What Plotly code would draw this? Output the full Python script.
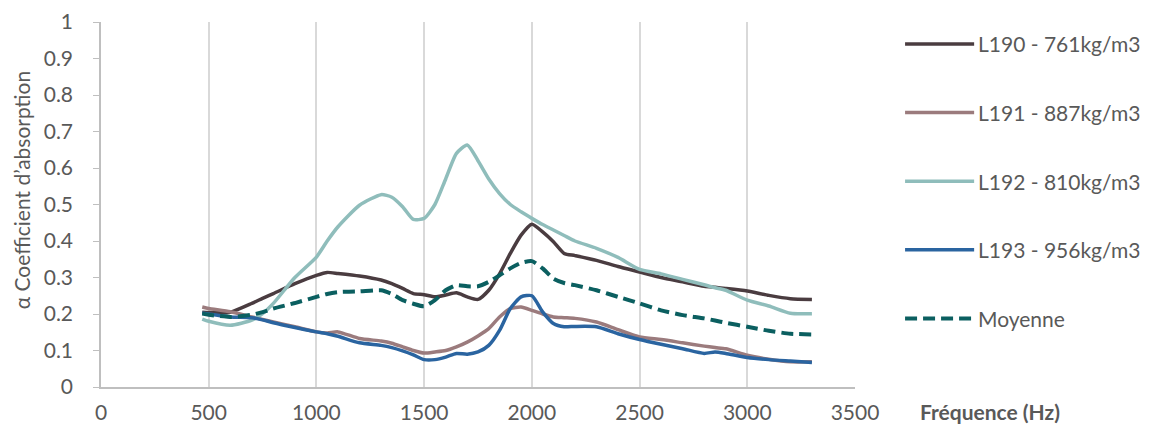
import plotly.graph_objects as go

freq = [470, 500, 600, 700, 750, 800, 900, 1000, 1050, 1100, 1200, 1300, 1350, 1400, 1450, 1500, 1550,
        1600, 1650, 1700, 1750, 1800, 1850, 1900, 1950, 2000, 2050, 2100, 2150, 2200, 2300, 2400, 2500,
        2600, 2700, 2800, 2850, 2900, 3000, 3100, 3200, 3300]

l190 = [0.205, 0.204, 0.205, 0.229, 0.243, 0.256, 0.283, 0.306, 0.314, 0.311, 0.304, 0.293, 0.283, 0.27, 0.256, 0.253, 0.247,
        0.252, 0.258, 0.247, 0.24, 0.265, 0.31, 0.366, 0.416, 0.446, 0.425, 0.398, 0.366, 0.36, 0.347, 0.33, 0.315,
        0.30, 0.288, 0.276, 0.273, 0.27, 0.263, 0.251, 0.242, 0.24]

l191 = [0.219, 0.215, 0.206, 0.192, 0.185, 0.178, 0.165, 0.151, 0.148, 0.151, 0.133, 0.126, 0.12, 0.11, 0.1, 0.093, 0.096,
        0.10, 0.11, 0.123, 0.14, 0.16, 0.192, 0.215, 0.219, 0.21, 0.2, 0.192, 0.19, 0.188, 0.178, 0.157, 0.137,
        0.13, 0.121, 0.112, 0.108, 0.105, 0.087, 0.076, 0.069, 0.069]

l192 = [0.186, 0.18, 0.169, 0.183, 0.201, 0.229, 0.30, 0.356, 0.40, 0.439, 0.498, 0.527, 0.52, 0.494, 0.459, 0.462, 0.50,
        0.57, 0.64, 0.663, 0.62, 0.57, 0.53, 0.50, 0.48, 0.462, 0.445, 0.43, 0.415, 0.40, 0.38, 0.355, 0.322,
        0.31, 0.295, 0.28, 0.272, 0.265, 0.238, 0.222, 0.202, 0.201]

l193 = [0.203, 0.2, 0.192, 0.19, 0.184, 0.176, 0.163, 0.151, 0.146, 0.139, 0.121, 0.114, 0.108, 0.099, 0.088, 0.075, 0.075,
        0.082, 0.092, 0.09, 0.096, 0.114, 0.155, 0.215, 0.247, 0.25, 0.206, 0.174, 0.165, 0.166, 0.165, 0.146, 0.13,
        0.117, 0.105, 0.092, 0.096, 0.092, 0.081, 0.075, 0.071, 0.067]

moyenne = [0.201, 0.198, 0.192, 0.198, 0.205, 0.215, 0.23, 0.247, 0.255, 0.26, 0.262, 0.265, 0.255, 0.238, 0.228, 0.221, 0.238,
           0.265, 0.279, 0.276, 0.276, 0.288, 0.306, 0.325, 0.34, 0.345, 0.325, 0.297, 0.285, 0.279, 0.265, 0.247, 0.229,
           0.21, 0.197, 0.188, 0.182, 0.176, 0.165, 0.154, 0.146, 0.144]

series_names = ["L190 - 761kg/m3", "L191 - 887kg/m3", "L192 - 810kg/m3", "L193 - 956kg/m3", "Moyenne"]
series_values = [l190, l191, l192, l193, moyenne]
series_colors = ["#4A3C40", "#9B7B7D", "#8FBDBB", "#2A64A0", "#0B5F60"]
series_dash = ["solid", "solid", "solid", "solid", "12px,6px"]
series_width = [3.5, 3.5, 3.5, 3.5, 4]

x_ticks = [0, 500, 1000, 1500, 2000, 2500, 3000, 3500]
y_ticks = [0, 0.1, 0.2, 0.3, 0.4, 0.5, 0.6, 0.7, 0.8, 0.9, 1]
y_tick_labels = ["0", "0.1", "0.2", "0.3", "0.4", "0.5", "0.6", "0.7", "0.8", "0.9", "1"]

FONT = "Lato, 'Open Sans', sans-serif"
GRAY = "#595959"

fig = go.Figure()
for name, vals, col, dash, w in zip(series_names, series_values, series_colors, series_dash, series_width):
    fig.add_trace(go.Scatter(
        x=freq, y=vals, name=name, mode="lines",
        line=dict(color=col, width=w, dash=dash, shape="spline", smoothing=0.6),
        showlegend=False,
    ))

# custom legend (long line samples as in the reference)
shapes = []
annotations = []
legend_y = [0.94, 0.752, 0.564, 0.376, 0.188]
for name, col, dash, w, ly in zip(series_names, series_colors, series_dash, series_width, legend_y):
    shapes.append(dict(type="line", xref="paper", yref="paper", x0=1.0664, x1=1.158, y0=ly, y1=ly,
                       line=dict(color=col, width=w, dash=dash)))
    annotations.append(dict(text=name, xref="paper", yref="paper", x=1.16, y=ly,
                            xanchor="left", yanchor="middle", showarrow=False,
                            font=dict(family=FONT, size=21, color=GRAY)))

annotations.append(dict(
    text="<b>Fréquence (Hz)</b>", xref="paper", yref="paper", x=1.083, y=-0.066,
    xanchor="left", yanchor="middle", showarrow=False,
    font=dict(family=FONT, size=21, color=GRAY),
))
annotations.append(dict(
    text="α Coefficient d’absorption", xref="paper", yref="paper", x=-0.1055, y=0.54,
    xanchor="center", yanchor="middle", textangle=-90, showarrow=False,
    font=dict(family=FONT, size=21, color=GRAY),
))

fig.update_layout(
    width=1167, height=432,
    margin=dict(l=93, r=320, t=14, b=53, autoexpand=False),
    paper_bgcolor="white", plot_bgcolor="white",
    font=dict(family=FONT, size=21, color=GRAY),
    showlegend=False,
    xaxis=dict(
        range=[0, 3500], tickvals=x_ticks, showgrid=True, gridcolor="#D9D9D9", gridwidth=1.5,
        showline=True, linecolor="#BFBFBF", linewidth=1.5, ticks="", zeroline=False,
        ticklabelstandoff=6, automargin=False,
        tickfont=dict(family=FONT, size=21, color=GRAY), fixedrange=True,
    ),
    yaxis=dict(
        range=[0, 1], tickvals=y_ticks, ticktext=y_tick_labels, showgrid=False,
        showline=True, linecolor="#BFBFBF", linewidth=1.5, ticks="outside", ticklen=6, tickcolor="#BFBFBF",
        zeroline=False, ticklabelstandoff=16, automargin=False,
        tickfont=dict(family=FONT, size=21, color=GRAY),
        fixedrange=True,
    ),
    shapes=shapes,
    annotations=annotations,
)

fig.write_html("out.html")
